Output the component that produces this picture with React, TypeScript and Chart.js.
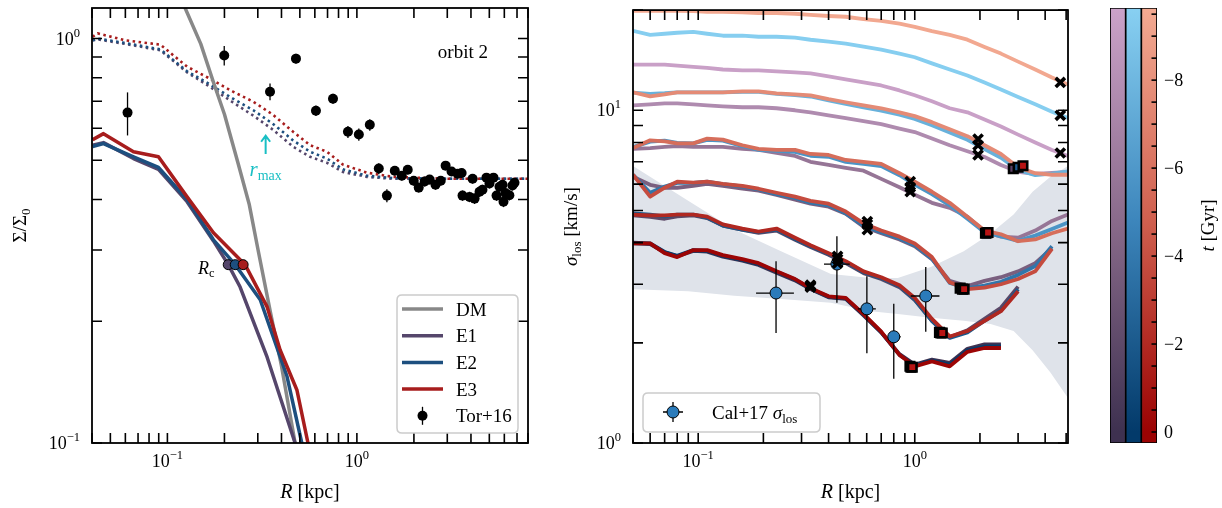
import React, { useEffect, useRef } from "react";
import { Chart, registerables } from "chart.js";

Chart.register(...registerables);

const FONT = '"Liberation Serif", "Times New Roman", "DejaVu Serif", serif';
const CYAN = "#19bfc4";

// ---------------- Left panel: surface density profiles ----------------
const dmR = [0.08, 0.1, 0.124, 0.15, 0.175, 0.2, 0.237, 0.27, 0.301, 0.35, 0.4, 0.472, 0.55];
const dmSigma = [1.9, 1.45, 1.19, 0.97, 0.78, 0.65, 0.488, 0.39, 0.3, 0.21, 0.155, 0.1, 0.065];

const e1R = [0.0403, 0.046, 0.0662, 0.0897, 0.127, 0.175, 0.2094, 0.242, 0.336, 0.472, 0.55];
const e1Sigma = [0.545, 0.553, 0.505, 0.475, 0.395, 0.316, 0.276, 0.243, 0.163, 0.1, 0.07];
const e2R = [0.0403, 0.046, 0.0662, 0.0897, 0.127, 0.175, 0.228, 0.309, 0.428, 0.512, 0.6];
const e2Sigma = [0.541, 0.55, 0.51, 0.48, 0.4, 0.318, 0.276, 0.226, 0.146, 0.1, 0.068];
const e3R = [0.0403, 0.046, 0.0662, 0.0897, 0.127, 0.175, 0.257, 0.336, 0.393, 0.483, 0.552, 0.65];
const e3Sigma = [0.562, 0.582, 0.525, 0.51, 0.406, 0.331, 0.276, 0.217, 0.17, 0.135, 0.1, 0.07];

const dotR = [0.0403, 0.0428, 0.06, 0.0919, 0.127, 0.164, 0.222, 0.284, 0.361, 0.461, 0.566, 0.695, 0.843, 1.13, 1.55, 3.0, 8.0];
const dotE1 = [0.99, 0.995, 0.97, 0.935, 0.825, 0.765, 0.695, 0.645, 0.595, 0.54, 0.51, 0.493, 0.468, 0.455, 0.45, 0.45, 0.45];
const dotE2 = [0.99, 1.0, 0.975, 0.94, 0.83, 0.775, 0.71, 0.665, 0.615, 0.56, 0.525, 0.505, 0.475, 0.458, 0.452, 0.45, 0.45];
const dotE3 = [1.01, 1.03, 0.99, 0.966, 0.852, 0.8, 0.739, 0.698, 0.648, 0.588, 0.545, 0.525, 0.488, 0.466, 0.455, 0.45, 0.45];

const rcR = [0.2094, 0.228, 0.251];
const rcSigma = [0.276, 0.276, 0.276];
const rmaxR = 0.33;

const torR = [0.0616, 0.1995, 0.348, 0.477, 0.608, 0.748, 0.897, 1.024, 1.17, 1.305, 1.44, 1.585, 1.726, 1.855, 1.995, 2.12, 2.28, 2.42, 2.6, 2.77, 2.94, 3.16, 3.4, 3.57, 3.61, 3.93, 4.08, 4.18, 4.44, 4.6, 4.83, 5.01, 5.26, 5.46, 5.66, 5.87, 5.94, 6.08, 6.38, 6.62, 6.79];
const torSigma = [0.656, 0.908, 0.739, 0.892, 0.663, 0.71, 0.588, 0.579, 0.612, 0.477, 0.409, 0.471, 0.458, 0.474, 0.445, 0.428, 0.443, 0.448, 0.435, 0.445, 0.485, 0.469, 0.463, 0.465, 0.409, 0.406, 0.45, 0.402, 0.418, 0.423, 0.453, 0.438, 0.453, 0.409, 0.43, 0.435, 0.395, 0.415, 0.41, 0.433, 0.44];
const torErr = [0.08, 0.05, 0.035, 0.025, 0.02, 0.02, 0.02, 0.02, 0.02, 0.015, 0.015, 0.012, 0.012, 0.012, 0.012, 0.012, 0.012, 0.012, 0.012, 0.012, 0.012, 0.012, 0.012, 0.012, 0.012, 0.012, 0.012, 0.012, 0.012, 0.012, 0.012, 0.012, 0.012, 0.012, 0.012, 0.012, 0.012, 0.012, 0.012, 0.012, 0.012];

// ---------------- Right panel: velocity dispersion profiles ----------------
const rGrid = [0.05, 0.06, 0.07, 0.08, 0.095, 0.11, 0.13, 0.16, 0.19, 0.23, 0.28, 0.33, 0.4, 0.48, 0.58, 0.7, 0.85, 1.0, 1.2, 1.45, 1.75, 2.1, 2.5, 3.0, 3.6, 4.3, 5.1];
const snapTimes = [-9.5, -7.6, -5.7, -3.8, -1.9, -0.1];

const g1Purple = [13.72, 13.72, 13.72, 13.62, 13.5, 13.41, 13.26, 13.17, 13.17, 13.08, 12.99, 12.9, 12.64, 12.38, 12.12, 11.87, 11.47, 11.09, 10.64, 10.14, 9.86, 9.38, 8.94, 8.45, 8.0, 7.6, 7.29];
const g1Blue = [17.33, 16.86, 16.98, 17.1, 17.21, 16.98, 16.75, 16.75, 16.63, 16.63, 16.52, 16.29, 16.07, 15.85, 15.52, 15.21, 14.8, 14.43, 13.83, 13.26, 12.72, 12.12, 11.55, 10.97, 10.42, 9.9, 9.48];
const g1Red = [19.9, 19.9, 19.9, 19.9, 19.85, 19.75, 19.75, 19.7, 19.6, 19.6, 19.5, 19.35, 19.2, 19.1, 18.8, 18.55, 18.2, 17.8, 17.3, 16.85, 16.3, 15.5, 14.8, 14.0, 13.25, 12.55, 11.95];

const g2Purple = [10.35, 10.42, 10.49, 10.49, 10.42, 10.35, 10.28, 10.21, 10.21, 10.14, 10.0, 9.86, 9.66, 9.47, 9.28, 9.08, 8.81, 8.6, 8.22, 7.85, 7.53, 7.24, 6.85, 6.53, 6.44, 6.48, 6.53];
const g2Blue = [11.3, 11.2, 11.25, 11.32, 11.32, 11.32, 11.32, 11.36, 11.36, 11.2, 11.1, 11.0, 10.7, 10.45, 10.2, 9.98, 9.7, 9.42, 9.02, 8.58, 8.15, 7.65, 7.2, 6.62, 6.38, 6.45, 6.55];
const g2Red = [11.32, 11.01, 11.16, 11.32, 11.32, 11.32, 11.32, 11.4, 11.4, 11.24, 11.16, 11.09, 10.8, 10.57, 10.35, 10.14, 9.86, 9.6, 9.21, 8.77, 8.36, 7.85, 7.39, 6.74, 6.47, 6.4, 6.4];

const g3Purple = [7.65, 7.7, 7.76, 7.81, 7.76, 7.76, 7.76, 7.65, 7.6, 7.44, 7.29, 7.0, 6.85, 6.71, 6.58, 6.22, 5.87, 5.57, 5.27, 5.09, 4.79, 4.32, 4.17, 4.14, 4.35, 4.65, 4.86];
const g3Blue = [7.75, 8.05, 8.1, 7.98, 7.95, 8.15, 8.1, 7.8, 7.6, 7.55, 7.5, 7.3, 7.25, 7.0, 6.9, 6.8, 6.38, 5.98, 5.6, 5.18, 4.72, 4.3, 4.18, 4.05, 4.2, 4.4, 4.6];
const g3Red = [7.7, 8.12, 8.06, 7.95, 7.95, 8.22, 8.16, 7.85, 7.65, 7.6, 7.6, 7.39, 7.34, 7.09, 7.0, 6.9, 6.47, 6.1, 5.69, 5.27, 4.79, 4.35, 4.24, 4.04, 4.09, 4.27, 4.41];

const g4Purple = [6.31, 5.97, 5.85, 5.85, 5.93, 6.01, 5.93, 5.81, 5.73, 5.57, 5.39, 5.24, 5.13, 4.89, 4.47, 4.27, 4.09, 3.9, 3.57, 3.07, 2.96, 3.07, 3.15, 3.28, 3.47, 3.85];
const g4Blue = [6.4, 5.65, 5.9, 6.05, 6.05, 6.1, 6.0, 5.9, 5.78, 5.6, 5.45, 5.28, 5.18, 4.9, 4.5, 4.3, 4.12, 3.93, 3.58, 3.03, 2.92, 2.97, 3.05, 3.2, 3.4, 3.9];
const g4Red = [6.4, 5.5, 5.85, 6.1, 6.06, 6.1, 6.01, 5.93, 5.81, 5.65, 5.5, 5.34, 5.24, 4.96, 4.57, 4.35, 4.17, 3.98, 3.62, 3.04, 2.9, 2.93, 3.0, 3.11, 3.28, 3.83];

const g5Purple = [4.83, 4.78, 4.72, 4.8, 4.83, 4.74, 4.5, 4.37, 4.28, 4.35, 4.08, 3.88, 3.68, 3.47, 3.24, 3.11, 2.94, 2.69, 2.33, 2.08, 2.18, 2.36, 2.55, 2.95];
const g5Blue = [4.9, 4.86, 4.8, 4.86, 4.86, 4.76, 4.5, 4.38, 4.3, 4.38, 4.1, 3.9, 3.7, 3.5, 3.26, 3.13, 2.96, 2.7, 2.33, 2.07, 2.15, 2.33, 2.5, 2.9];
const g5Red = [4.86, 4.83, 4.83, 4.86, 4.86, 4.79, 4.54, 4.41, 4.32, 4.41, 4.14, 3.93, 3.72, 3.52, 3.28, 3.15, 2.98, 2.73, 2.36, 2.09, 2.17, 2.33, 2.49, 2.86];

const g6Purple = [3.98, 3.96, 3.74, 3.64, 3.78, 3.76, 3.63, 3.53, 3.43, 3.25, 3.08, 2.9, 2.74, 2.71, 2.42, 2.15, 1.85, 1.72, 1.78, 1.74, 1.92, 1.98, 1.98];
const g6Blue = [4.0, 3.98, 3.75, 3.65, 3.8, 3.78, 3.65, 3.55, 3.45, 3.27, 3.1, 2.91, 2.75, 2.72, 2.43, 2.15, 1.84, 1.71, 1.77, 1.72, 1.9, 1.95, 1.95];
const g6Red = [3.98, 3.98, 3.72, 3.62, 3.8, 3.8, 3.67, 3.57, 3.47, 3.28, 3.11, 2.92, 2.76, 2.73, 2.44, 2.16, 1.84, 1.7, 1.76, 1.7, 1.88, 1.93, 1.93];

const purpleSeries = [g1Purple, g2Purple, g3Purple, g4Purple, g5Purple, g6Purple];
const blueSeries = [g1Blue, g2Blue, g3Blue, g4Blue, g5Blue, g6Blue];
const redSeries = [g1Red, g2Red, g3Red, g4Red, g5Red, g6Red];

// cross markers (one R per snapshot)
const crossR = [4.7, 1.96, 0.953, 0.604, 0.44, 0.33];
const crossPurple = [7.44, 7.34, 5.69, 4.38, 3.47, 2.94];
const crossBlue = [9.66, 7.85, 5.87, 4.54, 3.57, 2.96];
const crossRed = [12.12, 8.19, 6.1, 4.63, 3.64, 2.98];

// square markers (snapshots 2..6)
const sqPurpleR = [2.85, 2.12, 1.62, 1.3, 0.95];
const sqPurpleS = [6.67, 4.27, 2.92, 2.15, 1.7];
const sqBlueR = [3.0, 2.15, 1.66, 1.32, 0.96];
const sqBlueS = [6.74, 4.28, 2.9, 2.14, 1.69];
const sqRedR = [3.16, 2.18, 1.69, 1.34, 0.974];
const sqRedS = [6.81, 4.29, 2.9, 2.14, 1.69];

// observed band
const bandR = [0.049, 0.0899, 0.1466, 0.2413, 0.41, 0.627, 0.835, 1.186, 1.683, 2.24, 2.86, 3.5, 4.23, 5.2];
const bandHi = [6.85, 5.35, 4.38, 3.77, 3.22, 3.13, 3.13, 3.38, 3.77, 4.26, 4.86, 5.69, 6.31, 6.85];
const bandLo = [2.9, 2.86, 2.77, 2.71, 2.64, 2.49, 2.44, 2.38, 2.33, 2.28, 2.17, 1.9, 1.63, 1.34];

// Cal+17 data
const calR = [0.2288, 0.437, 0.601, 0.8, 1.124];
const calRlo = [0.185, 0.381, 0.546, 0.76, 0.958];
const calRhi = [0.2767, 0.501, 0.661, 0.86, 1.3];
const calS = [2.823, 3.45, 2.53, 2.086, 2.766];
const calSlo = [2.14, 2.64, 1.86, 1.56, 2.16];
const calShi = [3.52, 4.18, 3.17, 2.62, 3.38];

// colour bar
const T_MIN = -9.64;
const T_MAX = 0.25;
const cbMajorTicks = [-8, -6, -4, -2, 0];
const cbFamilies = ["E1", "E2", "E3"];
const purpleStops = ["#3e3150", "#8a6b8b", "#cba2c9"];
const blueStops = ["#033a6a", "#3d86bc", "#88d0f2"];
const redStops = ["#9b0303", "#d0604f", "#f3aa92"];
const familyStops = [purpleStops, blueStops, redStops];

const E1C = "#55466b";
const E2C = "#1d4f7f";
const E3C = "#a71d1d";
const DMC = "#888888";

// ---------------- helpers ----------------
function hexRgb(h: string) {
  return [parseInt(h.slice(1, 3), 16), parseInt(h.slice(3, 5), 16), parseInt(h.slice(5, 7), 16)];
}
function cmap(stops: string[], t: number) {
  const f = Math.min(1, Math.max(0, -t / -T_MIN)) * (stops.length - 1);
  const i = Math.min(stops.length - 2, Math.floor(f));
  const u = f - i;
  const a = hexRgb(stops[i]);
  const b = hexRgb(stops[i + 1]);
  const c = a.map((v, k) => Math.round(v + (b[k] - v) * u));
  return `rgb(${c[0]},${c[1]},${c[2]})`;
}
const pts = (xs: number[], ys: number[]) => ys.map((y, i) => ({ x: xs[i], y }));

type Span = { t: string; size: number; italic?: boolean; dy?: number; color?: string };
function spanFont(s: Span) {
  return `${s.italic ? "italic " : ""}${s.size}px ${FONT}`;
}
function drawSpans(ctx: any, spans: Span[], x: number, y: number, align: string) {
  let w = 0;
  for (const s of spans) {
    ctx.font = spanFont(s);
    w += ctx.measureText(s.t).width;
  }
  let cx = align === "left" ? x : align === "center" ? x - w / 2 : x - w;
  ctx.textAlign = "left";
  ctx.textBaseline = "alphabetic";
  for (const s of spans) {
    ctx.font = spanFont(s);
    ctx.fillStyle = s.color || "#000";
    ctx.fillText(s.t, cx, y + (s.dy || 0));
    cx += ctx.measureText(s.t).width;
  }
}
function drawRotated(ctx: any, spans: Span[], x: number, y: number) {
  ctx.save();
  ctx.translate(x, y);
  ctx.rotate(-Math.PI / 2);
  drawSpans(ctx, spans, 0, 0, "center");
  ctx.restore();
}
function powSpans(exp: number): Span[] {
  return [
    { t: "10", size: 18 },
    { t: exp < 0 ? "\u2212" + -exp : String(exp), size: 12.5, dy: -8 },
  ];
}
function logTicks(min: number, max: number) {
  const out: { v: number; major: boolean; exp: number }[] = [];
  for (let d = Math.floor(Math.log10(min)); d <= Math.ceil(Math.log10(max)); d++) {
    for (let m = 1; m <= 9; m++) {
      const v = m * Math.pow(10, d);
      if (v >= min * 0.999 && v <= max * 1.001) out.push({ v, major: m === 1, exp: d });
    }
  }
  return out;
}
function drawLogFrame(chart: any) {
  const { ctx, chartArea: a } = chart;
  const xs = chart.scales.x;
  const ys = chart.scales.y;
  ctx.save();
  ctx.strokeStyle = "#000";
  ctx.lineWidth = 1.6;
  for (const t of logTicks(xs.min, xs.max)) {
    const p = xs.getPixelForValue(t.v);
    const L = 10;
    ctx.beginPath();
    ctx.moveTo(p, a.bottom);
    ctx.lineTo(p, a.bottom - L);
    ctx.moveTo(p, a.top);
    ctx.lineTo(p, a.top + L);
    ctx.stroke();
    if (t.major) drawSpans(ctx, powSpans(t.exp), p, a.bottom + 24, "center");
  }
  for (const t of logTicks(ys.min, ys.max)) {
    const p = ys.getPixelForValue(t.v);
    const L = 10;
    ctx.beginPath();
    ctx.moveTo(a.left, p);
    ctx.lineTo(a.left + L, p);
    ctx.moveTo(a.right, p);
    ctx.lineTo(a.right - L, p);
    ctx.stroke();
    if (t.major) drawSpans(ctx, powSpans(t.exp), a.left - 12, p + 6, "right");
  }
  ctx.lineWidth = 1.8;
  ctx.strokeRect(a.left, a.top, a.right - a.left, a.bottom - a.top);
  ctx.restore();
}
function roundRect(ctx: any, x: number, y: number, w: number, h: number, r: number) {
  ctx.beginPath();
  ctx.moveTo(x + r, y);
  ctx.lineTo(x + w - r, y);
  ctx.quadraticCurveTo(x + w, y, x + w, y + r);
  ctx.lineTo(x + w, y + h - r);
  ctx.quadraticCurveTo(x + w, y + h, x + w - r, y + h);
  ctx.lineTo(x + r, y + h);
  ctx.quadraticCurveTo(x, y + h, x, y + h - r);
  ctx.lineTo(x, y + r);
  ctx.quadraticCurveTo(x, y, x + r, y);
  ctx.closePath();
}

const errorBarPlugin = {
  id: "errbars",
  beforeDatasetDraw(chart: any, args: any) {
    const ds: any = chart.data.datasets[args.index];
    if (!ds.err) return;
    const { ctx } = chart;
    const xs = chart.scales.x;
    const ys = chart.scales.y;
    ctx.save();
    ctx.strokeStyle = "#000";
    ctx.lineWidth = 1.3;
    ds.data.forEach((p: any, i: number) => {
      const e = ds.err[i];
      const px = xs.getPixelForValue(p.x);
      const py = ys.getPixelForValue(p.y);
      ctx.beginPath();
      if (e.ylo != null) {
        ctx.moveTo(px, ys.getPixelForValue(e.ylo));
        ctx.lineTo(px, ys.getPixelForValue(e.yhi));
      }
      if (e.xlo != null) {
        ctx.moveTo(xs.getPixelForValue(e.xlo), py);
        ctx.lineTo(xs.getPixelForValue(e.xhi), py);
      }
      ctx.stroke();
    });
    ctx.restore();
  },
};

function withOrder(list: any[]) {
  return list.map((d, i) => ({ ...d, order: list.length - i }));
}

const lineDs = (label: string, xs: number[], ys: number[], color: string, width = 3.5, dash: number[] = []) => ({
  label,
  data: pts(xs, ys),
  borderColor: color,
  backgroundColor: color,
  borderWidth: width,
  borderDash: dash,
  pointRadius: 0,
  tension: 0,
  fill: false,
  borderCapStyle: "butt",
  borderJoinStyle: "round",
});

// ---------------- chart builders ----------------
function makeLeft(canvas: HTMLCanvasElement) {
  const datasets = withOrder([
    lineDs("E1 (initial)", dotR, dotE1, E1C, 2.6, [2.5, 3.5]),
    lineDs("E2 (initial)", dotR, dotE2, E2C, 2.6, [2.5, 3.5]),
    lineDs("E3 (initial)", dotR, dotE3, E3C, 2.6, [2.5, 3.5]),
    lineDs("DM", dmR, dmSigma, DMC, 3.5),
    lineDs("E1", e1R, e1Sigma, E1C, 3.5),
    lineDs("E2", e2R, e2Sigma, E2C, 3.5),
    lineDs("E3", e3R, e3Sigma, E3C, 3.5),
    {
      label: "Rc",
      data: pts(rcR, rcSigma),
      showLine: false,
      pointRadius: 5,
      pointBackgroundColor: [E1C, E2C, E3C],
      pointBorderColor: "#000",
      pointBorderWidth: 1,
    },
    {
      label: "Tor+16",
      data: pts(torR, torSigma),
      err: torSigma.map((s, i) => ({ ylo: s - torErr[i], yhi: s + torErr[i] })),
      showLine: false,
      pointRadius: 5,
      pointBackgroundColor: "#000",
      pointBorderColor: "#000",
      pointBorderWidth: 0,
    },
  ]);

  const decor = {
    id: "leftDecor",
    afterDraw(chart: any) {
      const { ctx, chartArea: a } = chart;
      const xs = chart.scales.x;
      const ys = chart.scales.y;
      drawLogFrame(chart);

      // r_max arrow and label
      const ax = xs.getPixelForValue(rmaxR);
      const yTail = ys.getPixelForValue(0.518);
      const yTip = ys.getPixelForValue(0.575);
      ctx.save();
      ctx.strokeStyle = CYAN;
      ctx.lineWidth = 2;
      ctx.beginPath();
      ctx.moveTo(ax, yTail);
      ctx.lineTo(ax, yTip);
      ctx.moveTo(ax - 4.5, yTip + 6);
      ctx.lineTo(ax, yTip);
      ctx.lineTo(ax + 4.5, yTip + 6);
      ctx.stroke();
      ctx.restore();
      drawSpans(
        ctx,
        [
          { t: "r", size: 21, italic: true, color: CYAN },
          { t: "max", size: 14, dy: 4, color: CYAN },
        ],
        ax,
        yTail + 22,
        "center"
      );

      // R_c label
      drawSpans(
        ctx,
        [
          { t: "R", size: 18, italic: true },
          { t: "c", size: 12.5, dy: 3 },
        ],
        xs.getPixelForValue(0.145),
        ys.getPixelForValue(0.276) + 9,
        "left"
      );

      // orbit label
      drawSpans(ctx, [{ t: "orbit 2", size: 19 }], a.right - 40, a.top + 50, "right");

      // legend
      const lx = a.right - 131;
      const ly = a.bottom - 148;
      ctx.save();
      roundRect(ctx, lx, ly, 121, 138, 5);
      ctx.fillStyle = "rgba(255,255,255,0.85)";
      ctx.fill();
      ctx.strokeStyle = "#cccccc";
      ctx.lineWidth = 1.5;
      ctx.stroke();
      const rows = [
        { label: "DM", color: DMC },
        { label: "E1", color: E1C },
        { label: "E2", color: E2C },
        { label: "E3", color: E3C },
        { label: "Tor+16", color: null },
      ];
      rows.forEach((r, i) => {
        const ry = ly + 14 + i * 26.7;
        if (r.color) {
          ctx.strokeStyle = r.color;
          ctx.lineWidth = 3.5;
          ctx.beginPath();
          ctx.moveTo(lx + 5, ry);
          ctx.lineTo(lx + 46, ry);
          ctx.stroke();
        } else {
          const cx = lx + 25.5;
          ctx.strokeStyle = "#000";
          ctx.lineWidth = 1.3;
          ctx.beginPath();
          ctx.moveTo(cx, ry - 9);
          ctx.lineTo(cx, ry + 9);
          ctx.stroke();
          ctx.fillStyle = "#000";
          ctx.beginPath();
          ctx.arc(cx, ry, 5, 0, Math.PI * 2);
          ctx.fill();
        }
        drawSpans(ctx, [{ t: r.label, size: 19 }], lx + 59, ry + 6.5, "left");
      });
      ctx.restore();

      // axis titles
      drawSpans(
        ctx,
        [
          { t: "R", size: 20, italic: true },
          { t: " [kpc]", size: 20 },
        ],
        (a.left + a.right) / 2,
        a.bottom + 55,
        "center"
      );
      drawRotated(
        ctx,
        [
          { t: "\u03a3/\u03a3", size: 19 },
          { t: "0", size: 13, dy: 4 },
        ],
        26,
        (a.top + a.bottom) / 2
      );
    },
  };

  return new Chart(canvas, {
    type: "line",
    data: { datasets } as any,
    options: {
      animation: false,
      responsive: false,
      maintainAspectRatio: false,
      layout: { padding: { left: 92, top: 8, right: 12, bottom: 65 } },
      scales: {
        x: { type: "logarithmic", min: 0.04, max: 8, display: false },
        y: { type: "logarithmic", min: 0.1, max: 1.19, display: false },
      },
      plugins: { legend: { display: false }, tooltip: { enabled: false } },
    } as any,
    plugins: [errorBarPlugin, decor],
  });
}

function makeRight(canvas: HTMLCanvasElement) {
  const list: any[] = [
    {
      label: "band low",
      data: pts(bandR, bandLo),
      borderWidth: 0,
      pointRadius: 0,
      fill: false,
      borderColor: "rgba(0,0,0,0)",
    },
    {
      label: "band high",
      data: pts(bandR, bandHi),
      borderWidth: 0,
      pointRadius: 0,
      fill: "-1",
      borderColor: "rgba(0,0,0,0)",
      backgroundColor: "#dfe3ea",
    },
  ];
  snapTimes.forEach((t, g) => {
    list.push(lineDs(`E1 t=${t}`, rGrid, purpleSeries[g], cmap(purpleStops, t), 3.8));
    list.push(lineDs(`E2 t=${t}`, rGrid, blueSeries[g], cmap(blueStops, t), 3.8));
    list.push(lineDs(`E3 t=${t}`, rGrid, redSeries[g], cmap(redStops, t), 3.8));
  });
  const sq = (label: string, xs: number[], ys: number[], fillC: string) => ({
    label,
    data: pts(xs, ys),
    showLine: false,
    pointStyle: "rect",
    pointRadius: 6,
    pointBackgroundColor: fillC,
    pointBorderColor: "#000",
    pointBorderWidth: 2.6,
  });
  list.push(sq("E1 sq", sqPurpleR, sqPurpleS, "#5a3f66"));
  list.push(sq("E2 sq", sqBlueR, sqBlueS, "#1d5a90"));
  list.push(sq("E3 sq", sqRedR, sqRedS, "#b81414"));
  list.push({
    label: "Cal+17",
    data: pts(calR, calS),
    err: calS.map((s, i) => ({ ylo: calSlo[i], yhi: calShi[i], xlo: calRlo[i], xhi: calRhi[i] })),
    showLine: false,
    pointRadius: 6,
    pointBackgroundColor: "#2b7bba",
    pointBorderColor: "#000",
    pointBorderWidth: 1,
  });
  const cross = (label: string, ys: number[]) => ({
    label,
    data: pts(crossR, ys),
    showLine: false,
    pointStyle: "crossRot",
    pointRadius: 6.5,
    pointBorderColor: "#000",
    pointBorderWidth: 3.6,
  });
  list.push(cross("E1 x", crossPurple));
  list.push(cross("E2 x", crossBlue));
  list.push(cross("E3 x", crossRed));

  const datasets = withOrder(list);

  const decor = {
    id: "rightDecor",
    afterDraw(chart: any) {
      const { ctx, chartArea: a } = chart;
      drawLogFrame(chart);
      // legend
      const lx = a.left + 10;
      const ly = a.bottom - 50;
      ctx.save();
      roundRect(ctx, lx, ly, 177, 39, 5);
      ctx.fillStyle = "rgba(255,255,255,0.85)";
      ctx.fill();
      ctx.strokeStyle = "#cccccc";
      ctx.lineWidth = 1.5;
      ctx.stroke();
      const cx = lx + 30;
      const cy = ly + 19;
      ctx.strokeStyle = "#000";
      ctx.lineWidth = 1.3;
      ctx.beginPath();
      ctx.moveTo(cx - 10, cy);
      ctx.lineTo(cx + 10, cy);
      ctx.moveTo(cx, cy - 10);
      ctx.lineTo(cx, cy + 10);
      ctx.stroke();
      ctx.fillStyle = "#2b7bba";
      ctx.beginPath();
      ctx.arc(cx, cy, 6, 0, Math.PI * 2);
      ctx.fill();
      ctx.lineWidth = 1;
      ctx.stroke();
      ctx.restore();
      drawSpans(
        ctx,
        [
          { t: "Cal+17 ", size: 19 },
          { t: "\u03c3", size: 19, italic: true },
          { t: "los", size: 13, dy: 4 },
        ],
        lx + 69,
        cy + 6.5,
        "left"
      );
      // axis titles
      drawSpans(
        ctx,
        [
          { t: "R", size: 20, italic: true },
          { t: " [kpc]", size: 20 },
        ],
        (a.left + a.right) / 2,
        a.bottom + 55,
        "center"
      );
      drawRotated(
        ctx,
        [
          { t: "\u03c3", size: 19, italic: true },
          { t: "los", size: 13, dy: 4 },
          { t: " [km/s]", size: 19 },
        ],
        a.left - 56,
        (a.top + a.bottom) / 2
      );
    },
  };

  return new Chart(canvas, {
    type: "line",
    data: { datasets } as any,
    options: {
      animation: false,
      responsive: false,
      maintainAspectRatio: false,
      layout: { padding: { left: 93, top: 8, right: 12, bottom: 65 } },
      scales: {
        x: { type: "logarithmic", min: 0.05, max: 5.1, display: false },
        y: { type: "logarithmic", min: 1, max: 20, display: false },
      },
      plugins: { legend: { display: false }, tooltip: { enabled: false } },
    } as any,
    plugins: [errorBarPlugin, decor],
  });
}

function makeColorbar(canvas: HTMLCanvasElement) {
  const decor = {
    id: "cbDecor",
    afterDraw(chart: any) {
      const { ctx, chartArea: a } = chart;
      const ys = chart.scales.y;
      ctx.save();
      ctx.strokeStyle = "#000";
      ctx.lineWidth = 1.6;
      for (let t = -9.5; t <= 0.001; t += 0.5) {
        const p = ys.getPixelForValue(t);
        ctx.beginPath();
        ctx.moveTo(a.right, p);
        ctx.lineTo(a.right - 5.5, p);
        ctx.stroke();
      }
      ctx.restore();
      for (const t of cbMajorTicks) {
        const p = ys.getPixelForValue(t);
        drawSpans(ctx, [{ t: t < 0 ? "\u2212" + -t : String(t), size: 18 }], a.right + 7, p + 6, "left");
      }
      drawRotated(
        ctx,
        [
          { t: "t", size: 19, italic: true },
          { t: " [Gyr]", size: 19 },
        ],
        a.right + 57,
        (a.top + a.bottom) / 2
      );
    },
  };
  const grad = (c: any) => {
    const chart = c.chart;
    const ys = chart.scales && chart.scales.y;
    const stops = familyStops[c.dataIndex] || purpleStops;
    if (!chart.chartArea || !ys) return stops[1];
    const y0 = ys.getPixelForValue(0);
    const y1 = ys.getPixelForValue(T_MIN);
    const g = chart.ctx.createLinearGradient(0, y1, 0, y0);
    g.addColorStop(0, stops[2]);
    g.addColorStop(0.5, stops[1]);
    g.addColorStop(1, stops[0]);
    return g;
  };
  return new Chart(canvas, {
    type: "bar",
    data: {
      labels: cbFamilies,
      datasets: [
        {
          label: "t",
          data: cbFamilies.map(() => [T_MIN, T_MAX]),
          backgroundColor: grad,
          borderColor: "#000",
          borderWidth: 1.2,
          borderSkipped: false,
          categoryPercentage: 1,
          barPercentage: 1,
        },
      ],
    } as any,
    options: {
      animation: false,
      responsive: false,
      maintainAspectRatio: false,
      layout: { padding: { left: 30, top: 8, right: 65, bottom: 65 } },
      scales: {
        x: { display: false },
        y: { display: false, min: T_MIN, max: T_MAX, reverse: true },
      },
      plugins: { legend: { display: false }, tooltip: { enabled: false } },
    } as any,
    plugins: [decor],
  });
}

export default function App() {
  const leftRef = useRef<HTMLCanvasElement>(null);
  const rightRef = useRef<HTMLCanvasElement>(null);
  const cbRef = useRef<HTMLCanvasElement>(null);
  useEffect(() => {
    const charts = [
      makeLeft(leftRef.current as HTMLCanvasElement),
      makeRight(rightRef.current as HTMLCanvasElement),
      makeColorbar(cbRef.current as HTMLCanvasElement),
    ];
    return () => charts.forEach((c) => c.destroy());
  }, []);
  const abs = (left: number, width: number): React.CSSProperties => ({
    position: "absolute",
    left,
    top: 0,
    width,
    height: 508,
  });
  return (
    <div style={{ position: "fixed", left: 0, top: 0, width: 1222, height: 508, background: "#fff", overflow: "hidden" }}>
      <canvas ref={leftRef} width={540} height={508} style={abs(0, 540)} />
      <canvas ref={rightRef} width={540} height={508} style={abs(540, 540)} />
      <canvas ref={cbRef} width={142} height={508} style={abs(1080, 142)} />
    </div>
  );
}
